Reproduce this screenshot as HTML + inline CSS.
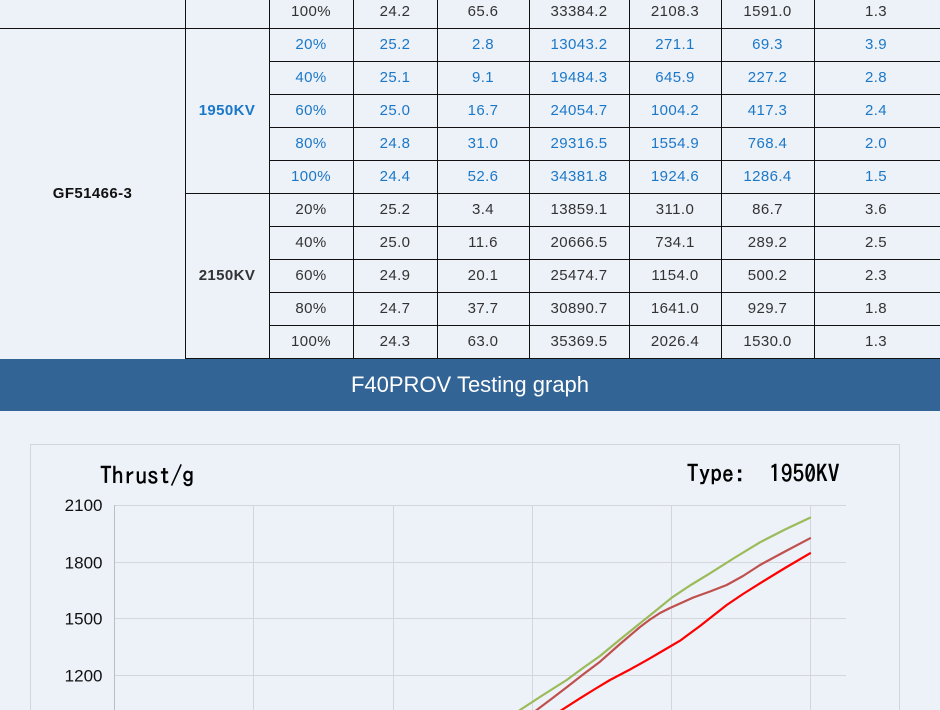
<!DOCTYPE html>
<html>
<head>
<meta charset="utf-8">
<style>
  html,body{margin:0;padding:0;}
  body{width:940px;height:710px;overflow:hidden;background:#edf1f8;position:relative;
       font-family:"Liberation Sans","Noto Sans CJK SC",sans-serif;}
  .c{position:absolute;height:33px;line-height:33px;text-align:center;font-size:15px;
     letter-spacing:0.4px;color:#333;white-space:nowrap;}
  .b{color:#1b78c8;}
  .hl{position:absolute;height:1px;background:#111;}
  .vl{position:absolute;width:1px;background:#111;}
  .bold{font-weight:bold;}
  #band{position:absolute;left:0;top:359px;width:940px;height:52px;background:#336496;
        color:#fff;font-size:22px;line-height:52px;text-align:center;}
</style>
</head>
<body>

<!-- table lines -->
<div class="hl" style="left:0;top:28px;width:940px;"></div>
<div class="hl" style="left:269px;top:61px;width:671px;"></div>
<div class="hl" style="left:269px;top:94px;width:671px;"></div>
<div class="hl" style="left:269px;top:127px;width:671px;"></div>
<div class="hl" style="left:269px;top:160px;width:671px;"></div>
<div class="hl" style="left:185px;top:193px;width:755px;"></div>
<div class="hl" style="left:269px;top:226px;width:671px;"></div>
<div class="hl" style="left:269px;top:259px;width:671px;"></div>
<div class="hl" style="left:269px;top:292px;width:671px;"></div>
<div class="hl" style="left:269px;top:325px;width:671px;"></div>
<div class="hl" style="left:185px;top:358px;width:755px;"></div>

<div class="vl" style="left:185px;top:0;height:359px;"></div>
<div class="vl" style="left:269px;top:0;height:359px;"></div>
<div class="vl" style="left:353px;top:0;height:359px;"></div>
<div class="vl" style="left:437px;top:0;height:359px;"></div>
<div class="vl" style="left:529px;top:0;height:359px;"></div>
<div class="vl" style="left:629px;top:0;height:359px;"></div>
<div class="vl" style="left:721px;top:0;height:359px;"></div>
<div class="vl" style="left:814px;top:0;height:359px;"></div>

<!-- group labels -->
<div class="c bold" style="left:0;width:185px;top:177px;color:#111;">GF51466-3</div>
<div class="c bold b" style="left:185px;width:84px;top:94px;">1950KV</div>
<div class="c bold" style="left:185px;width:84px;top:259px;">2150KV</div>

<!-- top partial row -->
<div class="c" style="left:269px;width:84px;top:-5px;">100%</div>
<div class="c" style="left:353px;width:84px;top:-5px;">24.2</div>
<div class="c" style="left:437px;width:92px;top:-5px;">65.6</div>
<div class="c" style="left:529px;width:100px;top:-5px;">33384.2</div>
<div class="c" style="left:629px;width:92px;top:-5px;">2108.3</div>
<div class="c" style="left:721px;width:93px;top:-5px;">1591.0</div>
<div class="c" style="left:814px;width:124px;top:-5px;">1.3</div>

<!-- 1950KV rows -->
<div class="c b" style="left:269px;width:84px;top:28px;">20%</div>
<div class="c b" style="left:353px;width:84px;top:28px;">25.2</div>
<div class="c b" style="left:437px;width:92px;top:28px;">2.8</div>
<div class="c b" style="left:529px;width:100px;top:28px;">13043.2</div>
<div class="c b" style="left:629px;width:92px;top:28px;">271.1</div>
<div class="c b" style="left:721px;width:93px;top:28px;">69.3</div>
<div class="c b" style="left:814px;width:124px;top:28px;">3.9</div>

<div class="c b" style="left:269px;width:84px;top:61px;">40%</div>
<div class="c b" style="left:353px;width:84px;top:61px;">25.1</div>
<div class="c b" style="left:437px;width:92px;top:61px;">9.1</div>
<div class="c b" style="left:529px;width:100px;top:61px;">19484.3</div>
<div class="c b" style="left:629px;width:92px;top:61px;">645.9</div>
<div class="c b" style="left:721px;width:93px;top:61px;">227.2</div>
<div class="c b" style="left:814px;width:124px;top:61px;">2.8</div>

<div class="c b" style="left:269px;width:84px;top:94px;">60%</div>
<div class="c b" style="left:353px;width:84px;top:94px;">25.0</div>
<div class="c b" style="left:437px;width:92px;top:94px;">16.7</div>
<div class="c b" style="left:529px;width:100px;top:94px;">24054.7</div>
<div class="c b" style="left:629px;width:92px;top:94px;">1004.2</div>
<div class="c b" style="left:721px;width:93px;top:94px;">417.3</div>
<div class="c b" style="left:814px;width:124px;top:94px;">2.4</div>

<div class="c b" style="left:269px;width:84px;top:127px;">80%</div>
<div class="c b" style="left:353px;width:84px;top:127px;">24.8</div>
<div class="c b" style="left:437px;width:92px;top:127px;">31.0</div>
<div class="c b" style="left:529px;width:100px;top:127px;">29316.5</div>
<div class="c b" style="left:629px;width:92px;top:127px;">1554.9</div>
<div class="c b" style="left:721px;width:93px;top:127px;">768.4</div>
<div class="c b" style="left:814px;width:124px;top:127px;">2.0</div>

<div class="c b" style="left:269px;width:84px;top:160px;">100%</div>
<div class="c b" style="left:353px;width:84px;top:160px;">24.4</div>
<div class="c b" style="left:437px;width:92px;top:160px;">52.6</div>
<div class="c b" style="left:529px;width:100px;top:160px;">34381.8</div>
<div class="c b" style="left:629px;width:92px;top:160px;">1924.6</div>
<div class="c b" style="left:721px;width:93px;top:160px;">1286.4</div>
<div class="c b" style="left:814px;width:124px;top:160px;">1.5</div>

<!-- 2150KV rows -->
<div class="c" style="left:269px;width:84px;top:193px;">20%</div>
<div class="c" style="left:353px;width:84px;top:193px;">25.2</div>
<div class="c" style="left:437px;width:92px;top:193px;">3.4</div>
<div class="c" style="left:529px;width:100px;top:193px;">13859.1</div>
<div class="c" style="left:629px;width:92px;top:193px;">311.0</div>
<div class="c" style="left:721px;width:93px;top:193px;">86.7</div>
<div class="c" style="left:814px;width:124px;top:193px;">3.6</div>

<div class="c" style="left:269px;width:84px;top:226px;">40%</div>
<div class="c" style="left:353px;width:84px;top:226px;">25.0</div>
<div class="c" style="left:437px;width:92px;top:226px;">11.6</div>
<div class="c" style="left:529px;width:100px;top:226px;">20666.5</div>
<div class="c" style="left:629px;width:92px;top:226px;">734.1</div>
<div class="c" style="left:721px;width:93px;top:226px;">289.2</div>
<div class="c" style="left:814px;width:124px;top:226px;">2.5</div>

<div class="c" style="left:269px;width:84px;top:259px;">60%</div>
<div class="c" style="left:353px;width:84px;top:259px;">24.9</div>
<div class="c" style="left:437px;width:92px;top:259px;">20.1</div>
<div class="c" style="left:529px;width:100px;top:259px;">25474.7</div>
<div class="c" style="left:629px;width:92px;top:259px;">1154.0</div>
<div class="c" style="left:721px;width:93px;top:259px;">500.2</div>
<div class="c" style="left:814px;width:124px;top:259px;">2.3</div>

<div class="c" style="left:269px;width:84px;top:292px;">80%</div>
<div class="c" style="left:353px;width:84px;top:292px;">24.7</div>
<div class="c" style="left:437px;width:92px;top:292px;">37.7</div>
<div class="c" style="left:529px;width:100px;top:292px;">30890.7</div>
<div class="c" style="left:629px;width:92px;top:292px;">1641.0</div>
<div class="c" style="left:721px;width:93px;top:292px;">929.7</div>
<div class="c" style="left:814px;width:124px;top:292px;">1.8</div>

<div class="c" style="left:269px;width:84px;top:325px;">100%</div>
<div class="c" style="left:353px;width:84px;top:325px;">24.3</div>
<div class="c" style="left:437px;width:92px;top:325px;">63.0</div>
<div class="c" style="left:529px;width:100px;top:325px;">35369.5</div>
<div class="c" style="left:629px;width:92px;top:325px;">2026.4</div>
<div class="c" style="left:721px;width:93px;top:325px;">1530.0</div>
<div class="c" style="left:814px;width:124px;top:325px;">1.3</div>

<!-- header band -->
<div id="band">F40PROV Testing graph</div>

<!-- chart -->
<svg style="position:absolute;left:0;top:0;display:block;" width="940" height="710" viewBox="0 0 940 710" xmlns="http://www.w3.org/2000/svg">
  <path d="M30.5 710 V444.5 H899.5 V710" fill="none" stroke="#d3d7dd" stroke-width="1"/>
  <g stroke="#d3d6db" stroke-width="1">
    <line x1="114" y1="505.5" x2="846" y2="505.5"/>
    <line x1="114" y1="562.5" x2="846" y2="562.5"/>
    <line x1="114" y1="618.5" x2="846" y2="618.5"/>
    <line x1="114" y1="675.5" x2="846" y2="675.5"/>
    <line x1="253.5" y1="505" x2="253.5" y2="710"/>
    <line x1="393.5" y1="505" x2="393.5" y2="710"/>
    <line x1="532.5" y1="505" x2="532.5" y2="710"/>
    <line x1="671.5" y1="505" x2="671.5" y2="710"/>
    <line x1="810.5" y1="505" x2="810.5" y2="710"/>
  </g>
  <line x1="114.5" y1="505" x2="114.5" y2="710" stroke="#b9bdc4" stroke-width="1"/>

  <g font-family="Liberation Sans, sans-serif" font-size="17" fill="#111" text-anchor="end">
    <text x="102.5" y="511">2100</text>
    <text x="102.5" y="568.4">1800</text>
    <text x="102.5" y="624.4">1500</text>
    <text x="102.5" y="681.4">1200</text>
  </g>
  <text x="100" y="484" font-family="IPAGothic, Liberation Mono, monospace" font-size="23.5" fill="#000" stroke="#000" stroke-width="0.5">Thrust/g</text>
  <text x="686.7" y="482" font-family="IPAGothic, Liberation Mono, monospace" font-size="23.5" fill="#000" stroke="#000" stroke-width="0.5" xml:space="preserve" style="white-space:pre">Type:  1950KV</text>

  <g fill="none" stroke-width="2.2" stroke-linejoin="round" stroke-linecap="round">
    <polyline stroke="#9bbb59" points="505,720 520,710 543,695 566.7,680 583,668 600,656 620,639.5 640,623.3 656,610.5 671.7,597.7 690,585.5 710,573.3 735,557.5 760,542.3 785,529.5 810,517.7"/>
    <polyline stroke="#c0504d" points="530,715 536.7,710 552,698.5 566.7,687.3 583,674.5 600,661.7 620,644 640,627 650,619.5 660,613 670,608 680,603.5 693.3,597.5 710,591.5 726.7,585 743,576 760,565 785,551.5 810,538.3"/>
    <polyline stroke="#ff0000" points="553,715.5 561.7,710 580,698.3 595,689 610,680 630,669.5 650,658.3 665,649.5 680,640.7 700,626 726.7,605 743,594 760,583.3 785,568 810,553.3"/>
  </g>
</svg>

</body>
</html>
